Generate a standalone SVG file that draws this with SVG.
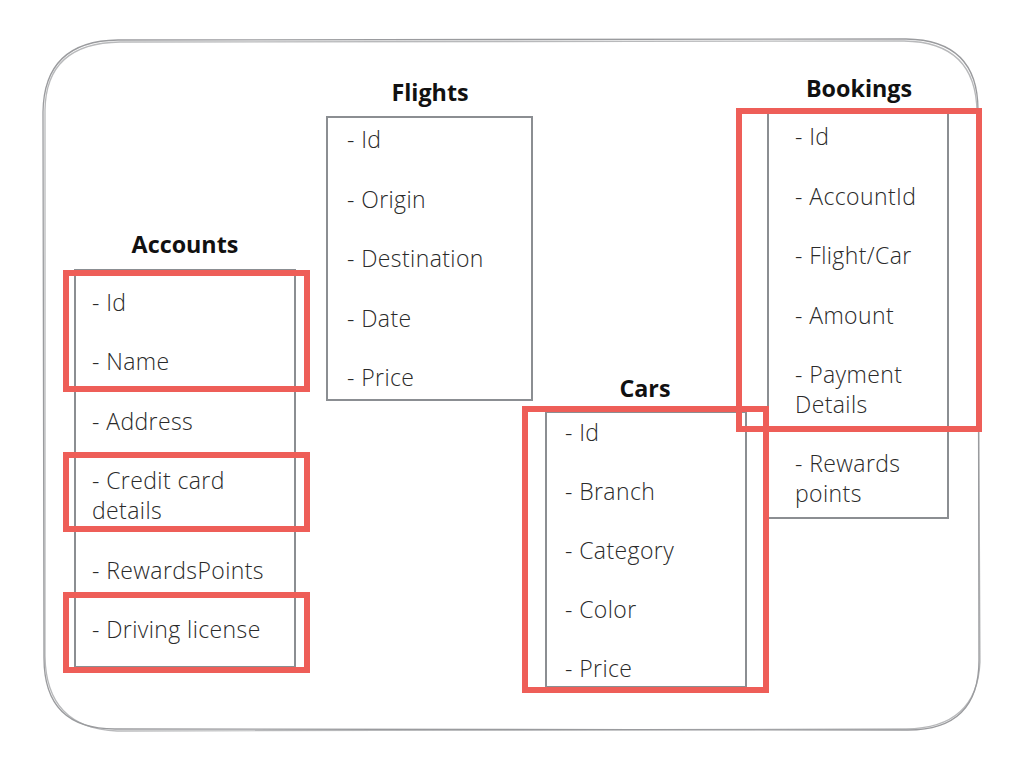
<svg xmlns="http://www.w3.org/2000/svg" width="1024" height="768" viewBox="0 0 1024 768">
<style>
.frame{fill:none;stroke:#9a9b9e;stroke-width:1.3}
.box{fill:#fff;stroke:#8b8e92;stroke-width:2}
.hl{fill:none;stroke:#ee5e58;stroke-width:6}
.title{font-family:"Open Sans","Liberation Sans",sans-serif;font-weight:700;font-size:23.3px;fill:#111;text-anchor:middle}
.item{font-family:"Open Sans","Liberation Sans",sans-serif;font-weight:300;font-size:23px;letter-spacing:0.4px;fill:#2a2a2a}
</style>
<rect width="1024" height="768" fill="#fff"/>
<g id="frame">
<path class="frame" d="M118,40 L906,39 Q978,40 978,110 L979,660 Q979,730 908,730 L115,729 Q44,729 44,658 L43,112 Q44,41 118,40 Z"/>
<path class="frame" d="M120,42 L904,41 Q976,42 977,112 L980,662 Q977,728 906,729 L117,731 Q46,728 45,656 L45,110 Q46,43 120,42 Z" opacity="0.7"/>
</g>
<g id="accounts">
<text class="title" x="185" y="253">Accounts</text>
<rect class="box" x="75" y="270" width="220" height="397"/>
<text class="item" x="92" y="311">- Id</text>
<text class="item" x="92" y="370">- Name</text>
<text class="item" x="92" y="430">- Address</text>
<text class="item" x="92" y="489">- Credit card</text>
<text class="item" x="92" y="519">details</text>
<text class="item" x="92" y="579">- RewardsPoints</text>
<text class="item" x="92" y="638">- Driving license</text>
</g>
<g id="flights">
<text class="title" x="430" y="101">Flights</text>
<rect class="box" x="327" y="117" width="205" height="283"/>
<text class="item" x="347" y="148">- Id</text>
<text class="item" x="347" y="208">- Origin</text>
<text class="item" x="347" y="267">- Destination</text>
<text class="item" x="347" y="327">- Date</text>
<text class="item" x="347" y="386">- Price</text>
</g>
<g id="cars">
<text class="title" x="645" y="397">Cars</text>
<rect class="box" x="546" y="412" width="200" height="275"/>
<text class="item" x="565" y="441">- Id</text>
<text class="item" x="565" y="500">- Branch</text>
<text class="item" x="565" y="559">- Category</text>
<text class="item" x="565" y="618">- Color</text>
<text class="item" x="565" y="677">- Price</text>
</g>
<g id="bookings">
<text class="title" x="859" y="97">Bookings</text>
<rect class="box" x="768" y="112" width="180" height="406"/>
<text class="item" x="795" y="145">- Id</text>
<text class="item" x="795" y="205">- AccountId</text>
<text class="item" x="795" y="264">- Flight/Car</text>
<text class="item" x="795" y="324">- Amount</text>
<text class="item" x="795" y="383">- Payment</text>
<text class="item" x="795" y="413">Details</text>
<text class="item" x="795" y="472">- Rewards</text>
<text class="item" x="795" y="502">points</text>
</g>
<g id="highlights">
<rect class="hl" x="66" y="273" width="241" height="116"/>
<rect class="hl" x="66" y="455" width="241" height="74"/>
<rect class="hl" x="66" y="595" width="241" height="75"/>
<rect class="hl" x="525" y="409" width="241" height="281"/>
<rect class="hl" x="739" y="111" width="240" height="318"/>
</g>
</svg>
